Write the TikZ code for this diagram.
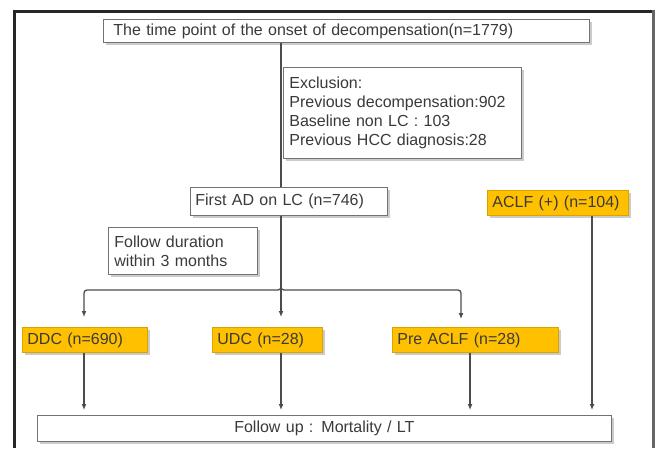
\documentclass[tikz,border=0pt]{standalone}
\usepackage{fontspec}
\setmainfont{Liberation Sans}
\usetikzlibrary{shadows,arrows.meta}
\definecolor{gold}{HTML}{FFC000}
\definecolor{ink}{HTML}{3A3A3A}
\begin{document}
\begin{tikzpicture}[x=1pt,y=-1pt,
  every node/.style={font=\fontsize{16}{19}\selectfont, text=ink},
  box/.style={draw=black!55, line width=0.8pt, fill=white, anchor=north west,
    drop shadow={shadow xshift=2.5pt, shadow yshift=-2.5pt, fill=black!40, opacity=0.5},
    inner xsep=6pt, inner ysep=0pt, align=left},
  obox/.style={box, fill=gold, draw=gold!85!black},
  conn/.style={draw=black!70, line width=1.3pt},
  arr/.style={conn, -{Latex[length=6pt,width=5pt]}, shorten >=5pt}]
\fill[white] (0,0) rectangle (659,448);
\useasboundingbox (0,0) rectangle (659,448);
% frame
\draw[line width=3pt, black!85] (14.5,448) -- (14.5,11.5) -- (652,11.5);
\draw[line width=3.5pt, black!60] (653.5,10) -- (653.5,448);
% columns
\coordinate (xl) at (84,0);
\coordinate (xm) at (281,0);
\coordinate (xr) at (461,0);
\coordinate (xp) at (470,0);
\coordinate (xa) at (592,0);
\coordinate (yb) at (0,290);
% nodes
\node[box, minimum width=486pt, minimum height=23pt, text width=466pt, inner xsep=10pt] (top) at (103,19)
  {The time point of the onset of decompensation(n=1779)};
\node[box, minimum width=238pt, minimum height=91pt, text width=226pt] (excl) at (283,67)
  {Exclusion:\\Previous decompensation:902\\Baseline non LC : 103\\Previous HCC diagnosis:28};
\node[box, minimum width=197pt, minimum height=28pt, text width=187pt, inner xsep=5pt] (first) at (190,187)
  {First AD on LC (n=746)};
\node[obox, minimum width=141pt, minimum height=25pt, text width=131pt, inner xsep=5pt] (aclf) at (487,190)
  {ACLF (+) (n=104)};
\node[box, minimum width=149pt, minimum height=47pt, text width=137pt] (fol) at (108,227)
  {Follow duration\\within 3 months};
\node[obox, minimum width=125pt, minimum height=25pt, text width=115pt, inner xsep=5pt] (ddc) at (22,327)
  {DDC (n=690)};
\node[obox, minimum width=110pt, minimum height=25pt, text width=100pt, inner xsep=5pt] (udc) at (212,327)
  {UDC (n=28)};
\node[obox, minimum width=166pt, minimum height=25pt, text width=156pt, inner xsep=5pt] (pre) at (392,327)
  {Pre ACLF (n=28)};
\node[box, minimum width=574pt, minimum height=26pt, text width=562pt, align=center] (fu) at (37,415)
  {Follow up : Mortality / LT};
% connectors
\draw[conn] (top.south -| xm) -- (first.north -| xm);
\draw[arr, shorten >=10pt] (first.south -| xm) -- (udc.north -| xm);
\draw[arr, rounded corners=3pt, shorten >=10pt] (first.south -| xm) |- (yb -| xl) -- (ddc.north -| xl);
\draw[arr, rounded corners=3pt, shorten >=8pt] (first.south -| xm) |- (yb -| xr) -- (pre.north -| xr);
\draw[arr] (ddc.south -| xl) -- (fu.north -| xl);
\draw[arr] (udc.south -| xm) -- (fu.north -| xm);
\draw[arr] (pre.south -| xp) -- (fu.north -| xp);
\draw[arr] (aclf.south -| xa) -- (fu.north -| xa);
\end{tikzpicture}
\end{document}
